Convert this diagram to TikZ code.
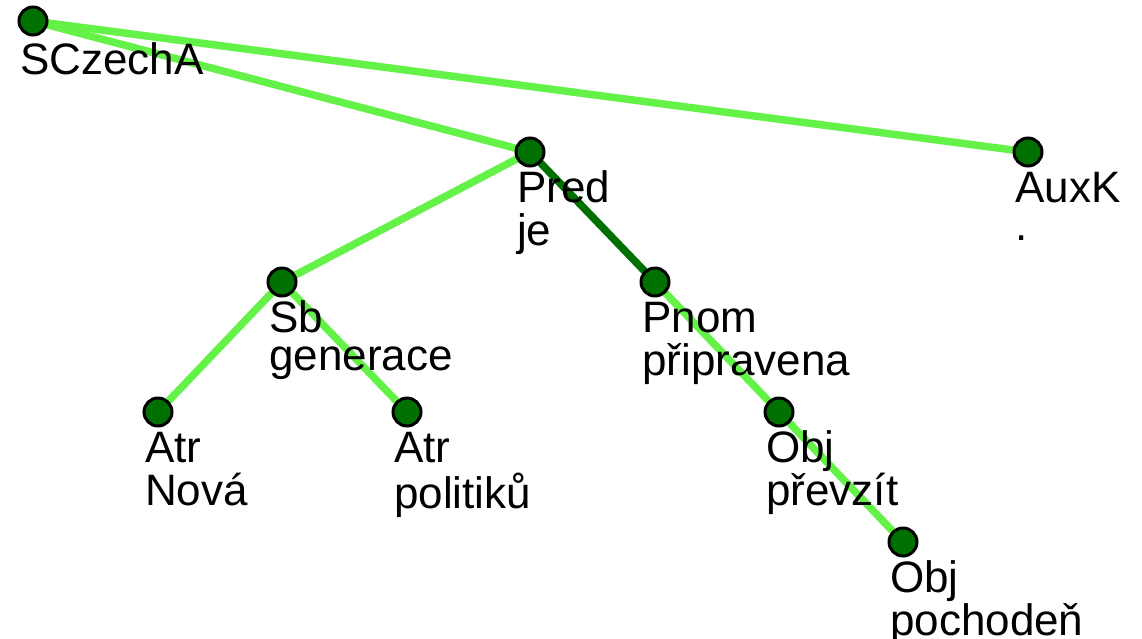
\documentclass[tikz,border=0pt]{standalone}
\usepackage{fontspec}
\setmainfont{Liberation Sans}
\definecolor{edgelight}{RGB}{100,242,72}
\definecolor{edgedark}{RGB}{0,112,0}
\definecolor{nodefill}{RGB}{0,112,0}
\newcommand\twolines[2]{\begin{tabular}[t]{@{}l@{}}#1\\#2\end{tabular}}
\begin{document}
\begin{tikzpicture}[x=1pt,y=-1pt,
  tnode/.style={circle,draw=black,line width=3pt,fill=nodefill,minimum size=28pt,inner sep=0pt},
  tedge/.style={draw=edgelight,line width=7.5pt},
  tedgedark/.style={draw=edgedark,line width=7.5pt},
  tlabel/.style={anchor=base west,inner sep=0pt,font=\fontsize{44}{38}\selectfont}]
\useasboundingbox (0,0) rectangle (1142,638);
\coordinate (pSCzechA) at (33,21);
\coordinate (pPred) at (530,152);
\coordinate (pAuxK) at (1028,152);
\coordinate (pSb) at (282,282);
\coordinate (pPnom) at (655,282);
\coordinate (pNova) at (158,412);
\coordinate (pPolitiku) at (407,412);
\coordinate (pPrevzit) at (779,412);
\coordinate (pPochoden) at (903,542);
% edges
\draw[tedge] (pSCzechA) -- (pPred);
\draw[tedge] (pSCzechA) -- (pAuxK);
\draw[tedge] (pPred) -- (pSb);
\draw[tedgedark] (pPred) -- (pPnom);
\draw[tedge] (pSb) -- (pNova);
\draw[tedge] (pSb) -- (pPolitiku);
\draw[tedge] (pPnom) -- (pPrevzit);
\draw[tedge] (pPrevzit) -- (pPochoden);
% nodes
\foreach \n in {SCzechA,Pred,AuxK,Sb,Pnom,Nova,Politiku,Prevzit,Pochoden}
  \node[tnode] (\n) at (p\n) {};
% labels
\node[tlabel] (lSCzechA) at ([xshift=-13pt,yshift=-53pt]SCzechA.center) {SCzechA};
\node[tlabel] (lPred) at ([xshift=-13pt,yshift=-50pt]Pred.center) {\twolines{Pred}{je}};
\node[tlabel] (lAuxK) at ([xshift=-13pt,yshift=-50pt]AuxK.center) {\twolines{AuxK}{.}};
\node[tlabel] (lSb) at ([xshift=-13pt,yshift=-50pt]Sb.center) {\twolines{Sb}{generace}};
\node[tlabel] (lPnom) at ([xshift=-13pt,yshift=-50pt]Pnom.center) {\twolines{Pnom}{připravena}};
\node[tlabel] (lNova) at ([xshift=-13pt,yshift=-50pt]Nova.center) {\twolines{Atr}{Nová}};
\node[tlabel] (lPolitiku) at ([xshift=-13pt,yshift=-50pt]Politiku.center) {\twolines{Atr}{politiků}};
\node[tlabel] (lPrevzit) at ([xshift=-13pt,yshift=-50pt]Prevzit.center) {\twolines{Obj}{převzít}};
\node[tlabel] (lPochoden) at ([xshift=-13pt,yshift=-50pt]Pochoden.center) {\twolines{Obj}{pochodeň}};
\end{tikzpicture}
\end{document}
